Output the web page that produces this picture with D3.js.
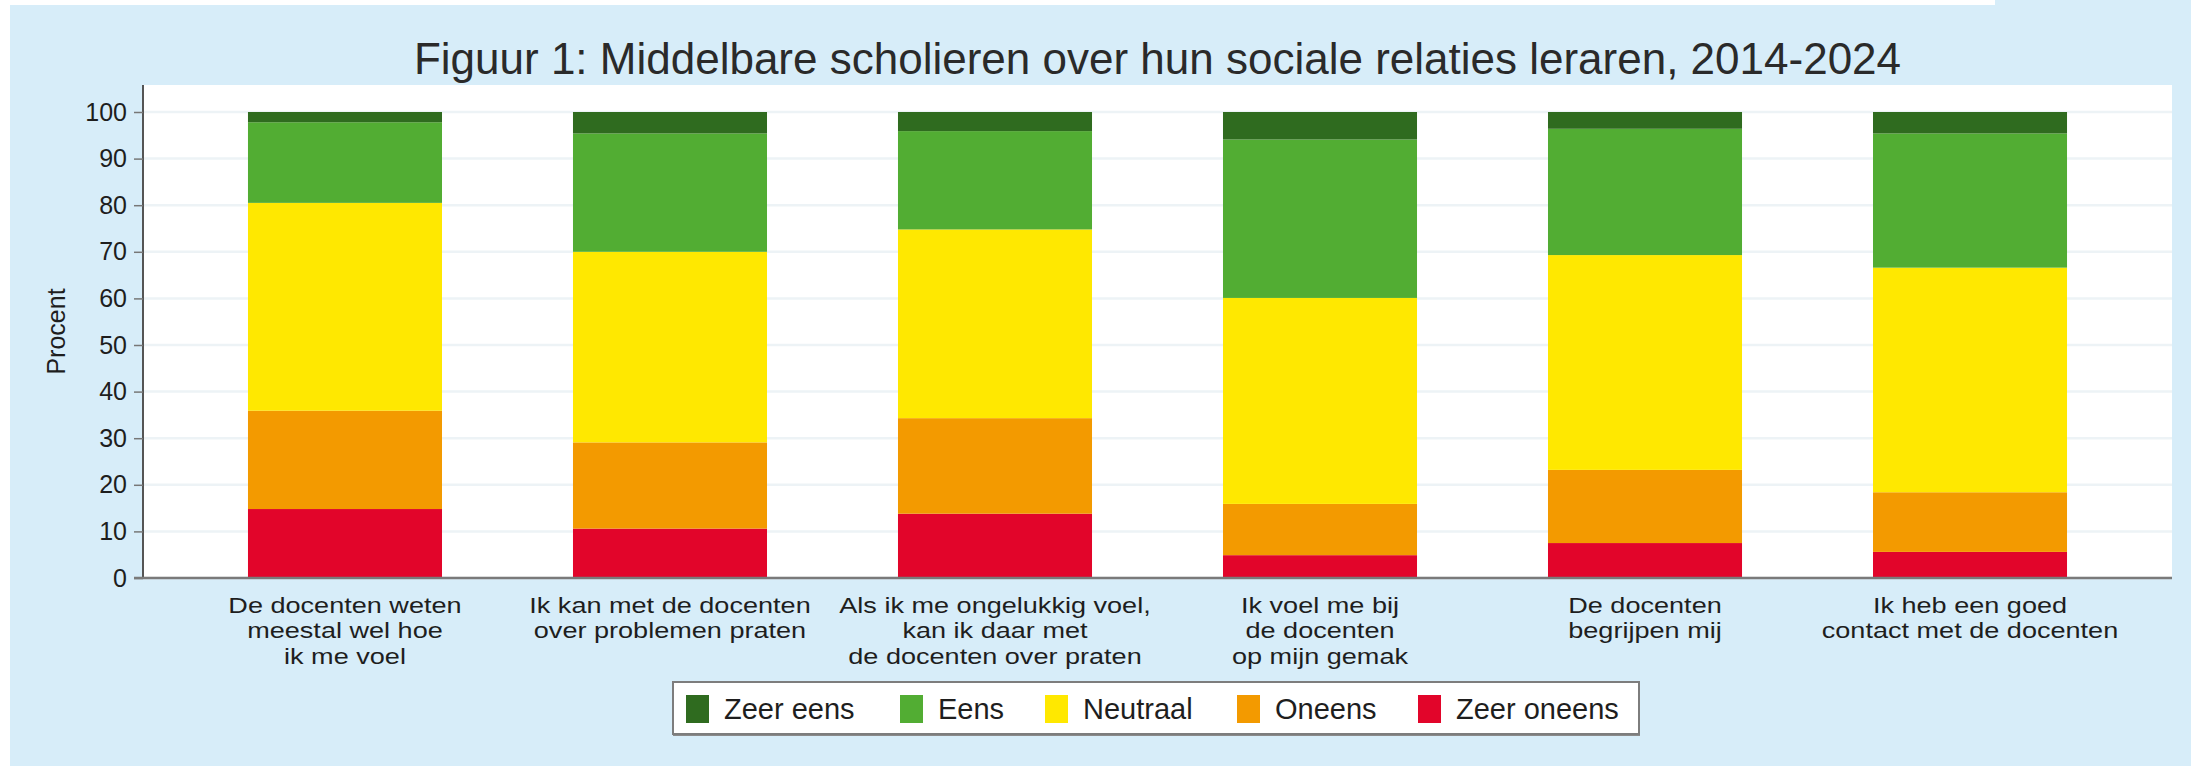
<!DOCTYPE html>
<html>
<head>
<meta charset="utf-8">
<script src="https://cdn.jsdelivr.net/npm/d3@7"></script>
<style>
  html, body { margin: 0; padding: 0; background: #ffffff; }
  svg { display: block; }
  text { font-family: "Liberation Sans", Arial, sans-serif; }
</style>
</head>
<body>
<svg id="chart" width="2191" height="766"></svg>
<script>
// ---- Data ----
const categories = [
  "De docenten weten meestal wel hoe ik me voel",
  "Ik kan met de docenten over problemen praten",
  "Als ik me ongelukkig voel, kan ik daar met de docenten over praten",
  "Ik voel me bij de docenten op mijn gemak",
  "De docenten begrijpen mij",
  "Ik heb een goed contact met de docenten"
];
const categoryLines = [
  ["De docenten weten", "meestal wel hoe", "ik me voel"],
  ["Ik kan met de docenten", "over problemen praten"],
  ["Als ik me ongelukkig voel,", "kan ik daar met", "de docenten over praten"],
  ["Ik voel me bij", "de docenten", "op mijn gemak"],
  ["De docenten", "begrijpen mij"],
  ["Ik heb een goed", "contact met de docenten"]
];
const zeerOneens = [14.8, 10.6, 13.8, 4.9, 7.5, 5.6];
const oneens     = [21.1, 18.5, 20.5, 11.0, 15.7, 12.8];
const neutraal   = [44.6, 40.9, 40.5, 44.2, 46.1, 48.2];
const eens       = [17.3, 25.4, 21.1, 34.0, 27.1, 28.8];
const zeerEens   = [2.2, 4.6, 4.1, 5.9, 3.6, 4.6];
const seriesNames = ["Zeer oneens", "Oneens", "Neutraal", "Eens", "Zeer eens"];
const legendOrder = ["Zeer eens", "Eens", "Neutraal", "Oneens", "Zeer oneens"];
const yTicks = [0, 10, 20, 30, 40, 50, 60, 70, 80, 90, 100];
const titleText = "Figuur 1: Middelbare scholieren over hun sociale relaties leraren, 2014-2024";
const yLabel = "Procent";

// ---- Styles ----
const colors = {
  "Zeer eens": "#2f6b1f",
  "Eens": "#52ad33",
  "Neutraal": "#ffe800",
  "Oneens": "#f39a00",
  "Zeer oneens": "#e2052a"
};
const bg = "#d7edf9";

const svg = d3.select("#chart");
const W = 2191, H = 766;

// background
svg.append("rect").attr("x", 0).attr("y", 0).attr("width", W).attr("height", H).attr("fill", "#ffffff");
svg.append("rect").attr("x", 10).attr("y", 5).attr("width", W - 10).attr("height", H - 5).attr("fill", bg);
svg.append("rect").attr("x", 1995).attr("y", 0).attr("width", W - 1995).attr("height", 5).attr("fill", bg);

const plot = { left: 143, right: 2172, top: 85, bottom: 578 };

// plot area
svg.append("rect")
  .attr("x", plot.left).attr("y", plot.top)
  .attr("width", plot.right - plot.left).attr("height", plot.bottom - plot.top)
  .attr("fill", "#ffffff");

const table = categories.map((c, i) => ({
  cat: c,
  "Zeer oneens": zeerOneens[i],
  "Oneens": oneens[i],
  "Neutraal": neutraal[i],
  "Eens": eens[i],
  "Zeer eens": zeerEens[i]
}));

const x = d3.scaleBand()
  .domain(categories)
  .range([plot.left, plot.right])
  .paddingInner(0.403)
  .paddingOuter(0.323);

const y = d3.scaleLinear().domain([0, 100]).range([plot.bottom, 112]);

// gridlines
svg.append("g")
  .selectAll("line")
  .data(yTicks)
  .join("line")
  .attr("x1", plot.left).attr("x2", plot.right)
  .attr("y1", d => y(d)).attr("y2", d => y(d))
  .attr("stroke", "#edf3f6").attr("stroke-width", 2.5);

// bars
const stacked = d3.stack().keys(seriesNames)(table);
svg.append("g")
  .selectAll("g")
  .data(stacked)
  .join("g")
  .attr("fill", d => colors[d.key])
  .selectAll("rect")
  .data(d => d)
  .join("rect")
  .attr("x", d => x(d.data.cat))
  .attr("width", x.bandwidth())
  .attr("y", d => y(d[1]))
  .attr("height", d => y(d[0]) - y(d[1]));

// y axis
const yAxis = svg.append("g")
  .attr("transform", `translate(${plot.left},0)`)
  .call(d3.axisLeft(y).tickValues(yTicks).tickSize(9).tickPadding(7).tickSizeOuter(0));
yAxis.select(".domain").attr("stroke", "#555").attr("stroke-width", 2)
  .attr("d", `M0,${plot.top}V${plot.bottom}`);
yAxis.selectAll(".tick line").attr("stroke", "#777").attr("stroke-width", 1.5);
yAxis.selectAll(".tick text")
  .attr("font-size", 25)
  .attr("fill", "#1e1e1e")
  .style("font-family", "'Liberation Sans', Arial, sans-serif");

// x axis line
const xAxis = svg.append("g")
  .attr("transform", `translate(0,${plot.bottom})`)
  .call(d3.axisBottom(x).tickSize(0).tickFormat(""));
xAxis.select(".domain").attr("stroke", "#7a7a7a").attr("stroke-width", 2.5)
  .attr("d", `M${plot.left - 9},0H${plot.right}`);

// category labels (slightly widened glyphs, as in the reference)
const sx = 1.26;
const lab = svg.append("g").attr("transform", `scale(${sx},1)`);
categories.forEach((c, i) => {
  const cx = (x(c) + x.bandwidth() / 2) / sx;
  const t = lab.append("text")
    .attr("text-anchor", "middle")
    .attr("font-size", 21.5)
    .attr("fill", "#1e1e1e");
  categoryLines[i].forEach((ln, j) => {
    t.append("tspan").attr("x", cx).attr("y", 613 + j * 25.5).text(ln);
  });
});

// y label
svg.append("text")
  .attr("transform", `translate(65,${(plot.top + plot.bottom) / 2}) rotate(-90)`)
  .attr("text-anchor", "middle")
  .attr("font-size", 25)
  .attr("fill", "#1e1e1e")
  .text(yLabel);

// title
svg.append("text")
  .attr("x", (plot.left + plot.right) / 2)
  .attr("y", 74)
  .attr("text-anchor", "middle")
  .attr("font-size", 44)
  .attr("fill", "#2a2a2a")
  .text(titleText);

// legend
const lg = svg.append("g");
lg.append("rect")
  .attr("x", 673).attr("y", 684).attr("width", 967).attr("height", 52)
  .attr("fill", "#8a8a8a");
lg.append("rect")
  .attr("x", 673).attr("y", 682).attr("width", 966).attr("height", 52)
  .attr("fill", "#ffffff").attr("stroke", "#7d7d7d").attr("stroke-width", 2);
const legendX = [686, 900, 1045, 1237, 1418];
legendOrder.forEach((k, i) => {
  lg.append("rect")
    .attr("x", legendX[i]).attr("y", 695)
    .attr("width", 23).attr("height", 28)
    .attr("fill", colors[k]);
  lg.append("text")
    .attr("x", legendX[i] + 38).attr("y", 719)
    .attr("font-size", 29)
    .attr("fill", "#1e1e1e")
    .text(k);
});
</script>
</body>
</html>
